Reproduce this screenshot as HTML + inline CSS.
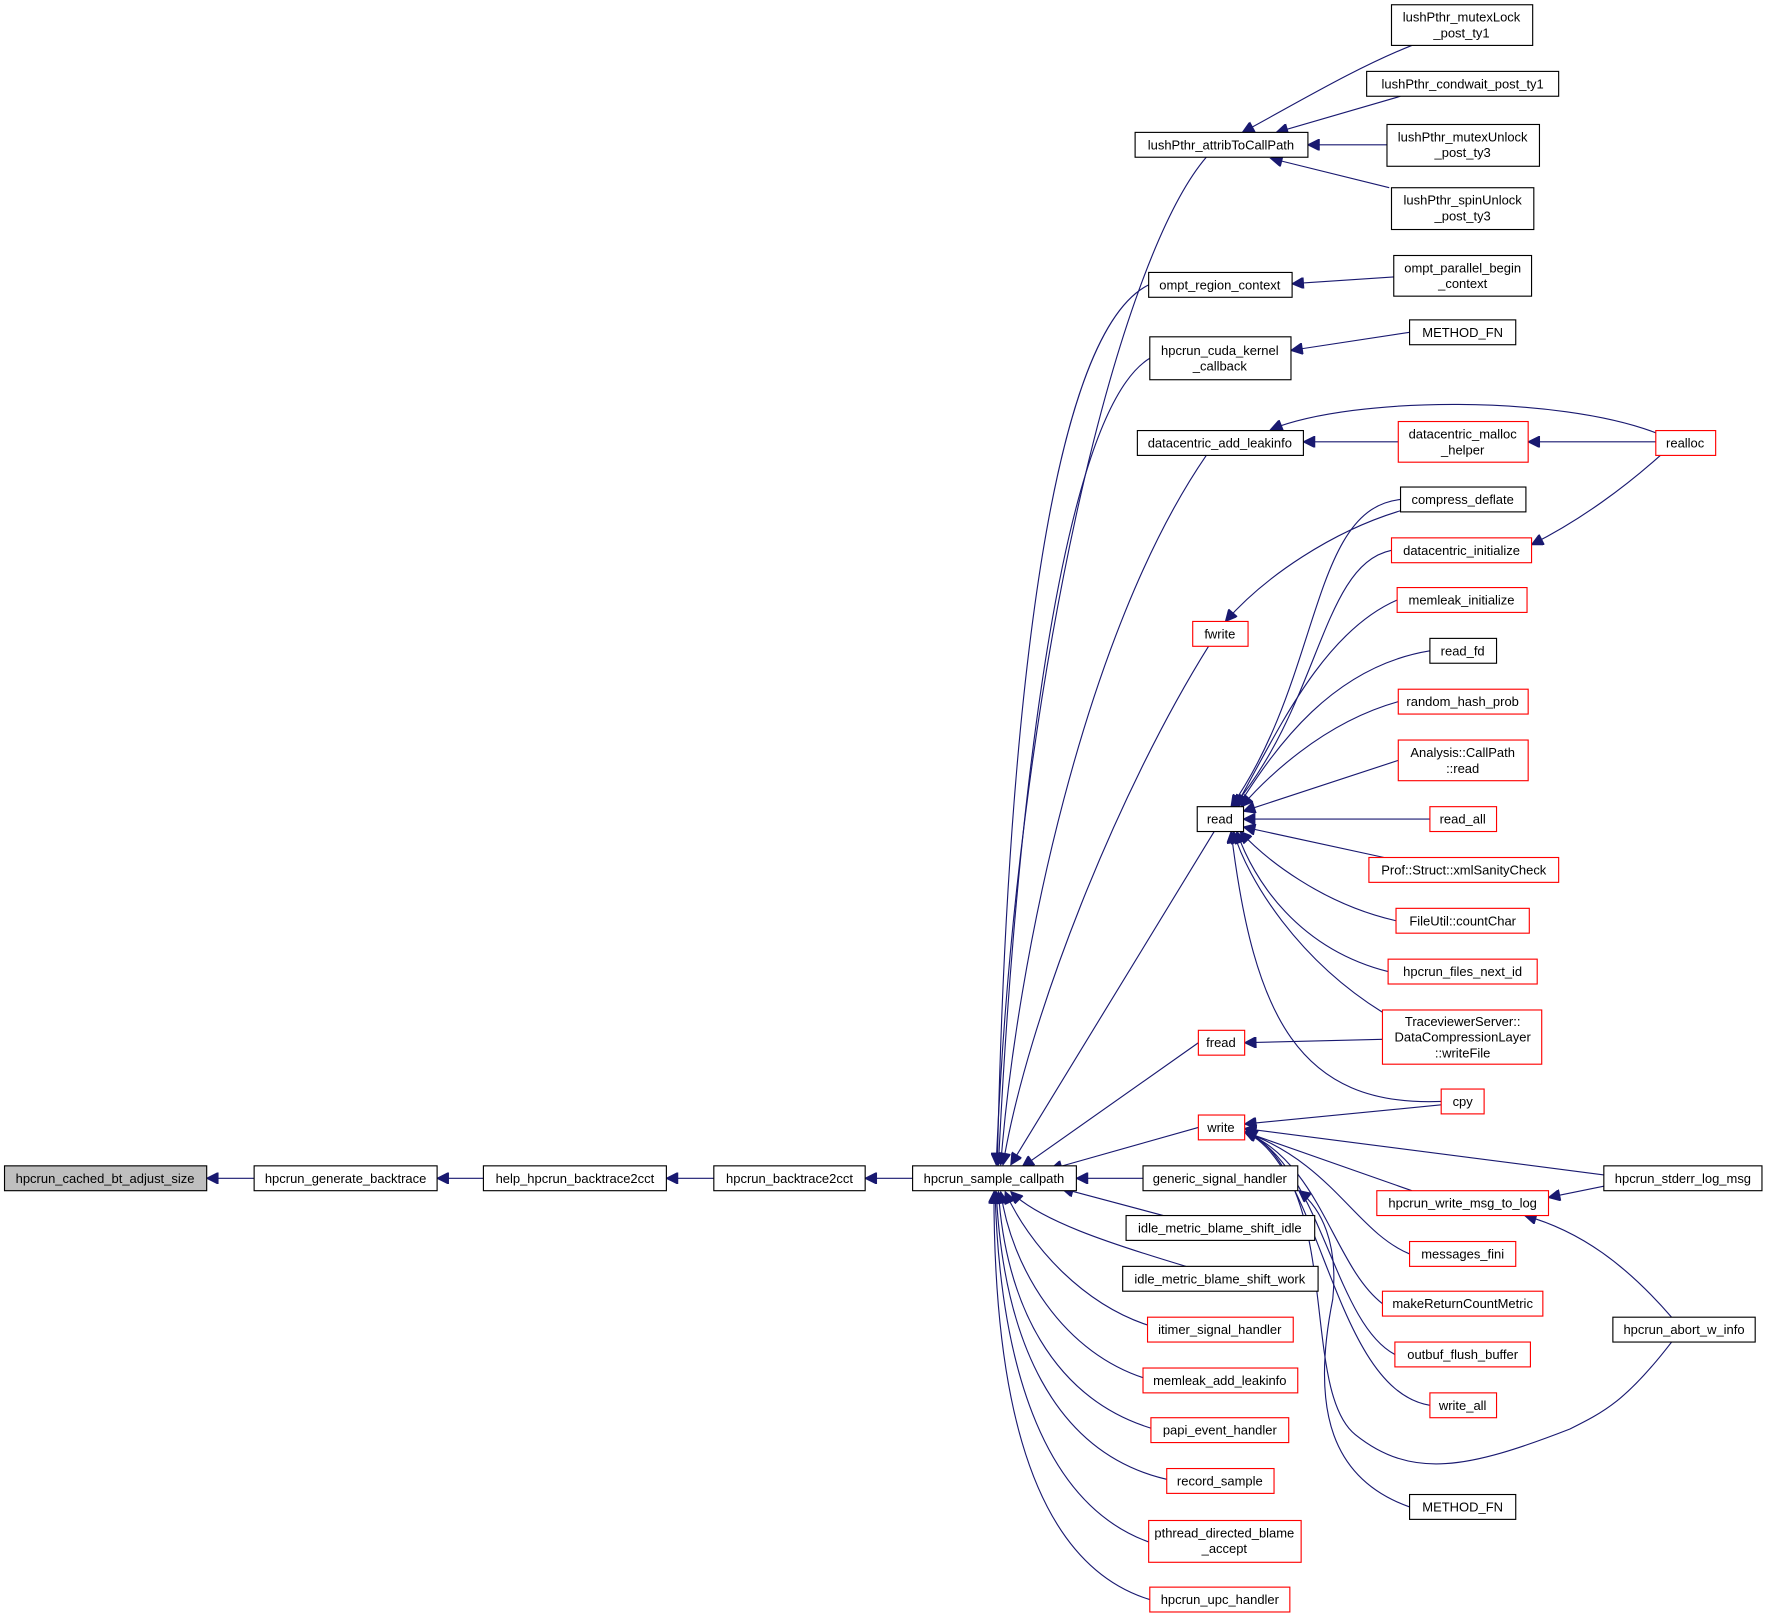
<!DOCTYPE html>
<html><head><meta charset="utf-8"><style>
html,body{margin:0;padding:0;background:#fff}
svg{display:block}
text{font-family:"Liberation Sans",sans-serif;font-size:11.5px;fill:#000;text-anchor:middle}
rect{fill:#fff;stroke:#000;stroke-width:1}
rect.r{stroke:#ff0000}
path{fill:none;stroke:#191970;stroke-width:1}
</style></head><body>
<svg width="1771" height="1619" viewBox="0 0 1568 1433" xmlns="http://www.w3.org/2000/svg">
<defs><marker id="a" viewBox="0 0 10 10" refX="10" refY="5" markerWidth="12" markerHeight="10" markerUnits="userSpaceOnUse" orient="auto"><path d="M0,0 L10,5 L0,10 z" style="fill:#191970;stroke:#191970"/></marker></defs>
<g marker-end="url(#a)">
<path d="M225,1043 L183,1043"/>
<path d="M428,1043 L387,1043"/>
<path d="M632,1043 L590,1043"/>
<path d="M808,1043 L766,1043"/>
<path d="M1068,139 C990,230 900,600 882,1031"/>
<path d="M1017,252 C920,300 890,700 883,1031"/>
<path d="M1018,317 C930,370 895,800 884,1031"/>
<path d="M1068,403 C960,560 900,850 886,1031"/>
<path d="M1070,572 C990,700 910,900 888,1031"/>
<path d="M1075,736 L895,1031"/>
<path d="M1061,923 L905,1033"/>
<path d="M1061,998 L930,1035"/>
<path d="M1012,1043 L953,1043"/>
<path d="M1030,1076 L940,1052"/>
<path d="M1050,1121 C980,1100 920,1080 895,1055"/>
<path d="M1030,1177 C960,1160 910,1100 890,1055"/>
<path d="M1020,1222 C940,1200 895,1120 886,1055"/>
<path d="M1025,1266 C930,1240 890,1150 884,1055"/>
<path d="M1040,1311 C930,1290 888,1180 882,1055"/>
<path d="M1017,1365 C920,1330 885,1200 881,1055"/>
<path d="M1018,1416 C900,1380 880,1200 880,1055"/>
<path d="M1250,40 C1200,60 1150,90 1100,117"/>
<path d="M1240,85 L1130,117"/>
<path d="M1228,128 L1158,128"/>
<path d="M1230,166 L1125,140"/>
<path d="M1234,245 L1144,251"/>
<path d="M1248,294 L1143,310"/>
<path d="M1238,391 L1154,391"/>
<path d="M1466,383 C1380,350 1200,350 1125,380"/>
<path d="M1466,391 L1353,391"/>
<path d="M1470,403 C1440,430 1400,460 1356,482"/>
<path d="M1240,452 C1180,470 1120,510 1085,550"/>
<path d="M1240,442 C1160,450 1170,600 1090,714"/>
<path d="M1232,487 C1170,500 1170,620 1092,714"/>
<path d="M1237,531 C1170,560 1130,650 1094,714"/>
<path d="M1266,576 C1180,590 1130,660 1096,714"/>
<path d="M1238,621 C1170,640 1120,690 1099,714"/>
<path d="M1238,673 L1101,718"/>
<path d="M1266,725 L1101,725"/>
<path d="M1230,760 L1101,732"/>
<path d="M1236,815 C1170,800 1120,760 1098,736"/>
<path d="M1229,860 C1150,840 1110,780 1095,736"/>
<path d="M1224,896 C1150,850 1105,780 1092,736"/>
<path d="M1276,975 C1150,980 1110,900 1090,736"/>
<path d="M1224,920 L1102,923"/>
<path d="M1276,978 L1102,995"/>
<path d="M1420,1040 L1102,999"/>
<path d="M1250,1054 L1102,1002"/>
<path d="M1248,1110 C1200,1090 1180,1030 1102,1002"/>
<path d="M1224,1154 C1180,1120 1170,1030 1102,1002"/>
<path d="M1235,1199 C1180,1170 1170,1030 1102,1002"/>
<path d="M1266,1244 C1180,1230 1170,1030 1102,1002"/>
<path d="M1480,1188 C1440,1240 1420,1250 1390,1265 C1300,1300 1250,1310 1200,1270 C1150,1230 1190,1050 1103,1000"/>
<path d="M1248,1334 C1180,1310 1160,1250 1180,1150 C1185,1100 1170,1070 1150,1054"/>
<path d="M1420,1050 L1371,1060"/>
<path d="M1480,1166 C1440,1120 1400,1090 1350,1076"/>
</g>
<rect x="4" y="1032" width="179" height="22" style="fill:#bfbfbf"/><text x="93" y="1047">hpcrun_cached_bt_adjust_size</text>
<rect x="225" y="1032" width="162" height="22"/><text x="306" y="1047">hpcrun_generate_backtrace</text>
<rect x="428" y="1032" width="162" height="22"/><text x="509" y="1047">help_hpcrun_backtrace2cct</text>
<rect x="632" y="1032" width="134" height="22"/><text x="699" y="1047">hpcrun_backtrace2cct</text>
<rect x="808" y="1032" width="145" height="22"/><text x="880" y="1047">hpcrun_sample_callpath</text>

<rect x="1005" y="117" width="153" height="22"/><text x="1081" y="132">lushPthr_attribToCallPath</text>
<rect x="1017" y="241" width="127" height="22"/><text x="1080" y="256">ompt_region_context</text>
<rect x="1018" y="298" width="125" height="38"/><text x="1080" y="314">hpcrun_cuda_kernel</text><text x="1080" y="328">_callback</text>
<rect x="1007" y="381" width="147" height="22"/><text x="1080" y="396">datacentric_add_leakinfo</text>
<rect class="r" x="1056" y="550" width="49" height="22"/><text x="1080" y="565">fwrite</text>
<rect x="1060" y="714" width="41" height="22"/><text x="1080" y="729">read</text>
<rect class="r" x="1061" y="912" width="41" height="22"/><text x="1081" y="927">fread</text>
<rect class="r" x="1061" y="987" width="41" height="22"/><text x="1081" y="1002">write</text>
<rect x="1012" y="1032" width="137" height="22"/><text x="1080" y="1047">generic_signal_handler</text>
<rect x="997" y="1076" width="167" height="22"/><text x="1080" y="1091">idle_metric_blame_shift_idle</text>
<rect x="994" y="1121" width="173" height="22"/><text x="1080" y="1136">idle_metric_blame_shift_work</text>
<rect class="r" x="1016" y="1166" width="129" height="22"/><text x="1080" y="1181">itimer_signal_handler</text>
<rect class="r" x="1012" y="1211" width="137" height="22"/><text x="1080" y="1226">memleak_add_leakinfo</text>
<rect class="r" x="1019" y="1255" width="122" height="22"/><text x="1080" y="1270">papi_event_handler</text>
<rect class="r" x="1033" y="1300" width="95" height="22"/><text x="1080" y="1315">record_sample</text>
<rect class="r" x="1017" y="1346" width="135" height="37"/><text x="1084" y="1361">pthread_directed_blame</text><text x="1084" y="1375">_accept</text>
<rect class="r" x="1018" y="1405" width="124" height="22"/><text x="1080" y="1420">hpcrun_upc_handler</text>

<rect x="1232" y="4" width="125" height="36"/><text x="1294" y="19">lushPthr_mutexLock</text><text x="1294" y="33">_post_ty1</text>
<rect x="1210" y="63" width="170" height="22"/><text x="1295" y="78">lushPthr_condwait_post_ty1</text>
<rect x="1228" y="110" width="135" height="37"/><text x="1295" y="125">lushPthr_mutexUnlock</text><text x="1295" y="139">_post_ty3</text>
<rect x="1232" y="166" width="126" height="37"/><text x="1295" y="181">lushPthr_spinUnlock</text><text x="1295" y="195">_post_ty3</text>
<rect x="1234" y="226" width="122" height="36"/><text x="1295" y="241">ompt_parallel_begin</text><text x="1295" y="255">_context</text>
<rect x="1248" y="283" width="94" height="22"/><text x="1295" y="298">METHOD_FN</text>
<rect class="r" x="1238" y="373" width="115" height="36"/><text x="1295" y="388">datacentric_malloc</text><text x="1295" y="402">_helper</text>
<rect x="1240" y="431" width="111" height="22"/><text x="1295" y="446">compress_deflate</text>
<rect class="r" x="1232" y="476" width="124" height="22"/><text x="1294" y="491">datacentric_initialize</text>
<rect class="r" x="1237" y="520" width="115" height="22"/><text x="1294" y="535">memleak_initialize</text>
<rect x="1266" y="565" width="59" height="22"/><text x="1295" y="580">read_fd</text>
<rect class="r" x="1238" y="610" width="115" height="22"/><text x="1295" y="625">random_hash_prob</text>
<rect class="r" x="1238" y="655" width="115" height="36"/><text x="1295" y="670">Analysis::CallPath</text><text x="1295" y="684">::read</text>
<rect class="r" x="1266" y="714" width="59" height="22"/><text x="1295" y="729">read_all</text>
<rect class="r" x="1212" y="759" width="168" height="22"/><text x="1296" y="774">Prof::Struct::xmlSanityCheck</text>
<rect class="r" x="1236" y="804" width="118" height="22"/><text x="1295" y="819">FileUtil::countChar</text>
<rect class="r" x="1229" y="849" width="132" height="22"/><text x="1295" y="864">hpcrun_files_next_id</text>
<rect class="r" x="1224" y="894" width="141" height="48"/><text x="1295" y="908">TraceviewerServer::</text><text x="1295" y="922">DataCompressionLayer</text><text x="1295" y="936">::writeFile</text>
<rect class="r" x="1276" y="964" width="38" height="22"/><text x="1295" y="979">cpy</text>
<rect class="r" x="1219" y="1054" width="152" height="22"/><text x="1295" y="1069">hpcrun_write_msg_to_log</text>
<rect class="r" x="1248" y="1099" width="94" height="22"/><text x="1295" y="1114">messages_fini</text>
<rect class="r" x="1224" y="1143" width="142" height="22"/><text x="1295" y="1158">makeReturnCountMetric</text>
<rect class="r" x="1235" y="1188" width="120" height="22"/><text x="1295" y="1203">outbuf_flush_buffer</text>
<rect class="r" x="1266" y="1233" width="59" height="22"/><text x="1295" y="1248">write_all</text>
<rect x="1248" y="1323" width="94" height="22"/><text x="1295" y="1338">METHOD_FN</text>

<rect class="r" x="1466" y="381" width="53" height="22"/><text x="1492" y="396">realloc</text>
<rect x="1420" y="1032" width="140" height="22"/><text x="1490" y="1047">hpcrun_stderr_log_msg</text>
<rect x="1428" y="1166" width="126" height="22"/><text x="1491" y="1181">hpcrun_abort_w_info</text>
</svg>
</body></html>
